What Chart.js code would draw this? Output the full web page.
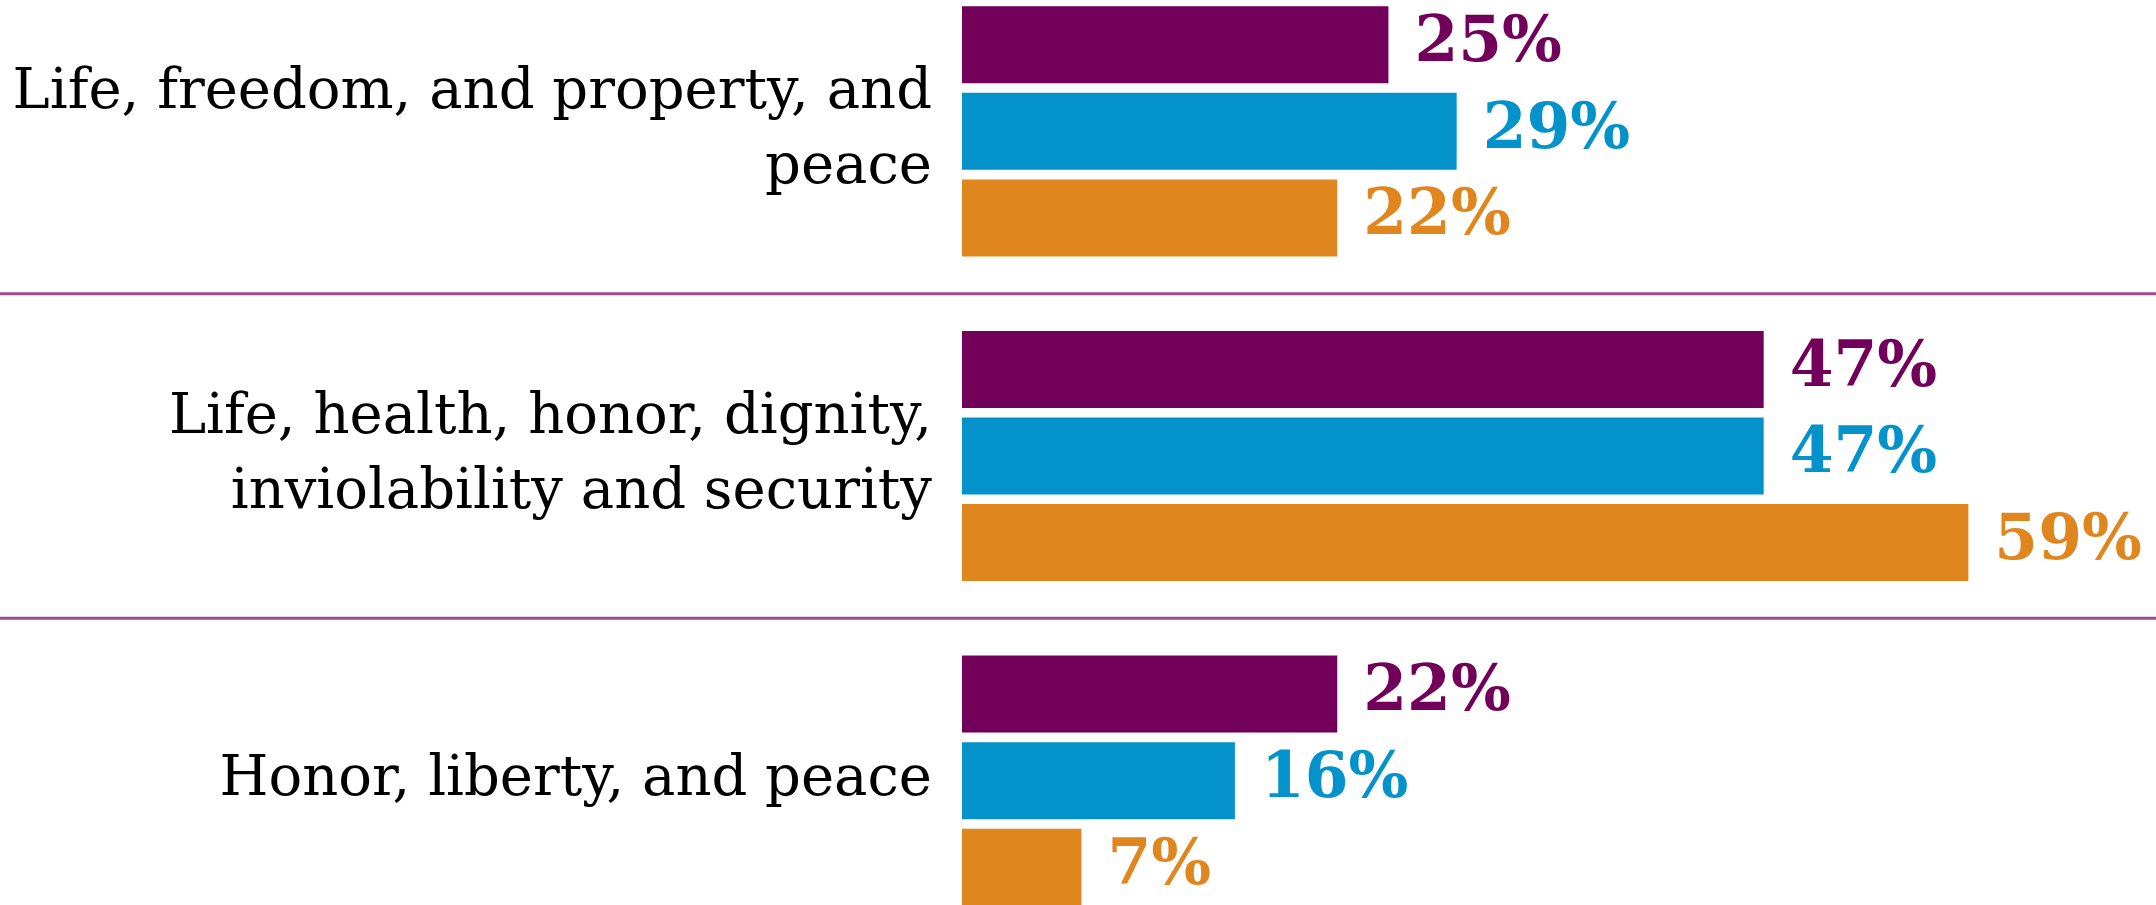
<!DOCTYPE html>
<html lang="en">
<head>
  <meta charset="UTF-8" />
  <title>Rights grouped bar chart</title>
  <script src="https://cdn.jsdelivr.net/npm/chart.js"></script>
  <style>
    html, body {
      margin: 0;
      padding: 0;
      background: #ffffff;
      overflow: hidden;
      width: 2156px;
      height: 905px;
    }

    /* the original picture is cropped: the plot runs a little past the top and bottom */
    .chart-box {
      position: absolute;
      left: 0;
      top: -31px;
      width: 2156px;
      height: 974px;
    }
  </style>
</head>
<body>
  <div class="chart-box">
    <canvas id="rightsChart"></canvas>
  </div>

  <script>
    // categories (multi-line labels) and the three series, in percent
    const categories = [
      ['Life, freedom, and property, and', 'peace'],
      ['Life, health, honor, dignity,', 'inviolability and security'],
      ['Honor, liberty, and peace']
    ];
    const purpleValues = [25, 47, 22];
    const blueValues = [29, 47, 16];
    const orangeValues = [22, 59, 7];
    const axisMax = 70;

    const PURPLE = '#72005a';
    const BLUE = '#0393ca';
    const ORANGE = '#e0861e';

    // value labels at the end of each bar, in the bar's colour
    const valueLabels = {
      id: 'valueLabels',
      afterDatasetsDraw(chart) {
        const ctx = chart.ctx;
        ctx.save();
        ctx.font = 'bold 63px "DejaVu Serif"';
        ctx.textAlign = 'left';
        ctx.textBaseline = 'middle';
        chart.data.datasets.forEach((ds, i) => {
          chart.getDatasetMeta(i).data.forEach((bar, j) => {
            ctx.fillStyle = ds.backgroundColor;
            ctx.fillText(ds.data[j] + '%', bar.x + 26, bar.y);
          });
        });
        ctx.restore();
      }
    };

    // purple rules between the groups, full page width
    const groupRules = {
      id: 'groupRules',
      beforeDatasetsDraw(chart) {
        const y = chart.scales.y;
        const ctx = chart.ctx;
        ctx.save();
        ctx.strokeStyle = '#9c4a92';
        ctx.lineWidth = 3;
        for (let i = 0; i < categories.length - 1; i++) {
          const py = (y.getPixelForValue(i) + y.getPixelForValue(i + 1)) / 2;
          ctx.beginPath();
          ctx.moveTo(0, py);
          ctx.lineTo(chart.width, py);
          ctx.stroke();
        }
        ctx.restore();
      }
    };

    const ctx = document.getElementById('rightsChart').getContext('2d');
    new Chart(ctx, {
      type: 'bar',
      data: {
        labels: categories,
        datasets: [
          { label: 'Series 1', data: purpleValues, backgroundColor: PURPLE },
          { label: 'Series 2', data: blueValues, backgroundColor: BLUE },
          { label: 'Series 3', data: orangeValues, backgroundColor: ORANGE }
        ]
      },
      options: {
        indexAxis: 'y',
        responsive: true,
        maintainAspectRatio: false,
        animation: false,
        categoryPercentage: 0.8,
        barPercentage: 0.89,
        layout: { padding: 0 },
        plugins: {
          legend: { display: false },
          tooltip: { enabled: false }
        },
        scales: {
          x: {
            display: false,
            min: 0,
            max: axisMax
          },
          y: {
            grid: { display: false, drawTicks: false },
            border: { display: false },
            ticks: {
              color: '#000000',
              padding: 30,
              font: { family: '"DejaVu Serif"', size: 56, lineHeight: 1.34 }
            },
            afterFit(scale) {
              scale.width = 962;
              // let the bars fill the whole height, labels may overhang
              scale.paddingTop = 0;
              scale.paddingBottom = 0;
            }
          }
        }
      },
      plugins: [groupRules, valueLabels]
    });
  </script>
</body>
</html>
